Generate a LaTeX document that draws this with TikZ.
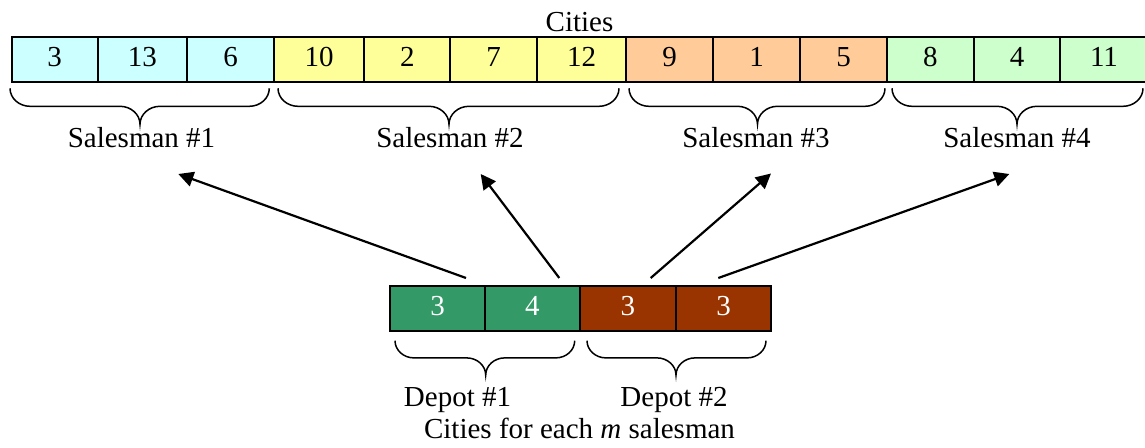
\documentclass[tikz,border=0pt]{standalone}
\usepackage{fontspec}
\setmainfont{Liberation Serif}
\usetikzlibrary{arrows.meta}
\definecolor{cyanc}{HTML}{CCFFFF}
\definecolor{yellowc}{HTML}{FFFF99}
\definecolor{orangec}{HTML}{FFCC99}
\definecolor{greenc}{HTML}{CCFFCC}
\definecolor{depotA}{HTML}{339966}
\definecolor{depotB}{HTML}{993300}
% brace: x1, x2, xm (tip), y0 (top), h (flat depth), r (curl width)
\newcommand{\mybrace}[6]{%
  \draw[bracestyle] (#1,#4) .. controls (#1,#4+0.55*#5) and (#1+0.45*#6,#4+#5) .. (#1+#6,#4+#5)
    -- (#3-#6,#4+#5) .. controls (#3-0.45*#6,#4+#5) and (#3,#4+1.45*#5) .. (#3,#4+2*#5)
    .. controls (#3,#4+1.45*#5) and (#3+0.45*#6,#4+#5) .. (#3+#6,#4+#5)
    -- (#2-#6,#4+#5) .. controls (#2-0.45*#6,#4+#5) and (#2,#4+0.55*#5) .. (#2,#4);}
\begin{document}
\begin{tikzpicture}[x=1pt,y=-1pt,
  font=\fontsize{29}{34}\selectfont,
  cell/.style={draw=black, line width=2pt, minimum height=45pt, inner sep=0pt,
    text height=20pt, text depth=6pt},
  dcell/.style={cell, text=white},
  lbl/.style={anchor=base, inner sep=0pt},
  bracestyle/.style={draw=black, line width=1.5pt},
  arr/.style={draw=black, line width=2.2pt, -{Triangle[length=15pt,width=15pt]}}]
\useasboundingbox (0,0) rectangle (1145,447);

% top row of cities
\node[cell, fill=cyanc,   minimum width=86pt]   (t1)  at (54.7,59.8)   {3};
\node[cell, fill=cyanc,   minimum width=89.3pt] (t2)  at (142.35,59.8) {13};
\node[cell, fill=cyanc,   minimum width=87pt]   (t3)  at (230.5,59.8)  {6};
\node[cell, fill=yellowc, minimum width=90.3pt] (t4)  at (319.15,59.8) {10};
\node[cell, fill=yellowc, minimum width=86pt]   (t5)  at (407.3,59.8)  {2};
\node[cell, fill=yellowc, minimum width=86.7pt] (t6)  at (493.65,59.8) {7};
\node[cell, fill=yellowc, minimum width=89pt]   (t7)  at (581.5,59.8)  {12};
\node[cell, fill=orangec, minimum width=87.3pt] (t8)  at (669.65,59.8) {9};
\node[cell, fill=orangec, minimum width=86.7pt] (t9)  at (756.65,59.8) {1};
\node[cell, fill=orangec, minimum width=87pt]   (t10) at (843.5,59.8)  {5};
\node[cell, fill=greenc,  minimum width=86.7pt] (t11) at (930.35,59.8) {8};
\node[cell, fill=greenc,  minimum width=86.6pt] (t12) at (1017,59.8)   {4};
\node[cell, fill=greenc,  minimum width=87.4pt] (t13) at (1104,59.8)   {11};

\node[lbl] (cities) at (579.5,31.7) {Cities};

% braces under the top row
\mybrace{10}{269.3}{140}{88.3}{18}{20}
\mybrace{278}{619}{449}{88.3}{18}{20}
\mybrace{629}{885}{757.5}{88.3}{18}{20}
\mybrace{892}{1143}{1017}{88.3}{18}{20}

\node[lbl] (s1) at (141.5,147.7) {Salesman \#1};
\node[lbl] (s2) at (450,147.7)   {Salesman \#2};
\node[lbl] (s3) at (756,147.7)   {Salesman \#3};
\node[lbl] (s4) at (1017,147.7)  {Salesman \#4};

% bottom row of depots
\node[dcell, fill=depotA, minimum width=95pt]   (d1) at (437.5,308.2)  {3};
\node[dcell, fill=depotA, minimum width=94.7pt] (d2) at (532.35,308.2) {4};
\node[dcell, fill=depotB, minimum width=96.3pt] (d3) at (627.85,308.2) {3};
\node[dcell, fill=depotB, minimum width=95pt]   (d4) at (723.5,308.2)  {3};

\mybrace{395}{574.7}{485.7}{340.7}{17.2}{19}
\mybrace{587}{766}{676}{340.7}{17.2}{19}

\node[lbl] (dp1) at (457.5,406.7) {Depot \#1};
\node[lbl] (dp2) at (674,406.7)   {Depot \#2};
\node[lbl] (cap) at (579.5,438.3) {Cities for each \textit{m} salesman};

% arrows
\coordinate (a1s) at (466,278);   \coordinate (a1e) at (178.3,174);
\coordinate (a2s) at (559.3,278); \coordinate (a2e) at (480.7,174);
\coordinate (a3s) at (650.7,278); \coordinate (a3e) at (771,173.5);
\coordinate (a4s) at (718.3,278); \coordinate (a4e) at (1009.3,174);
\draw[arr] (a1s) -- (a1e);
\draw[arr] (a2s) -- (a2e);
\draw[arr] (a3s) -- (a3e);
\draw[arr] (a4s) -- (a4e);
\end{tikzpicture}
\end{document}
